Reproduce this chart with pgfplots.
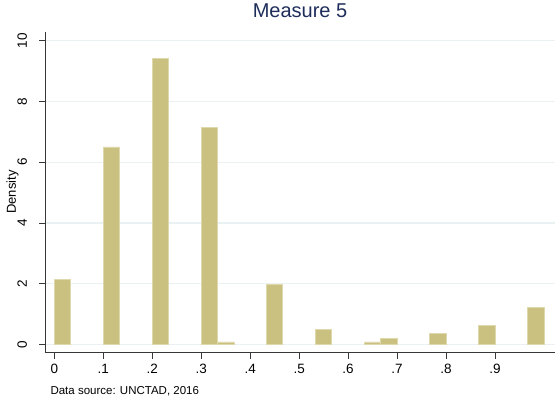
\documentclass[border=0pt]{standalone}
\usepackage{fontspec}
\setmainfont{Liberation Sans}
\usepackage{pgfplots}
\pgfplotsset{compat=1.18}

\definecolor{barfill}{RGB}{202,193,128}
\definecolor{baredge}{RGB}{222,216,172}
\definecolor{gridc}{RGB}{233,241,242}
\definecolor{titlec}{RGB}{30,45,90}
\definecolor{axisc}{RGB}{55,55,55}

\begin{document}
\begin{tikzpicture}
\useasboundingbox (0,0) rectangle (555pt,400pt);
\begin{axis}[
  at={(45pt,47.5pt)}, anchor=south west,
  scale only axis, width=510pt, height=320.8pt,
  xmin=-0.019, xmax=1.0225, ymin=-0.267, ymax=10.296,
  axis x line*=bottom, axis y line*=left,
  axis line style={axisc, line width=0.9pt},
  tick align=outside, major tick length=6pt,
  tick style={axisc, line width=0.8pt},
  xtick={0,0.1,0.2,0.3,0.4,0.5,0.6,0.7,0.8,0.9},
  xticklabels={0,.1,.2,.3,.4,.5,.6,.7,.8,.9},
  ytick={0,2,4,6,8,10},
  ymajorgrids, grid style={gridc, line width=1.3pt},
  /pgf/number format/assume math mode=true,
  xticklabel style={font=\fontsize{13.5}{15}\selectfont, anchor=base, yshift=-15pt},
  yticklabel style={font=\fontsize{13.5}{15}\selectfont, rotate=90, anchor=base, yshift=12pt},
  ylabel={Density},
  ylabel style={at={(axis description cs:-0.0637,0.5)}, anchor=center,
    font=\fontsize{13}{15}\selectfont},
  title={Measure 5},
  title style={at={(0.5,1)}, anchor=base, yshift=8.4pt,
    font=\fontsize{20}{22}\selectfont, text=titlec},
]
% density of each 1/30-wide bin, plotted at the bin centre
\addplot[ybar, bar width=0.033333, fill=barfill, draw=baredge, line width=0.7pt]
  coordinates {
    (0.016667,2.14)
    (0.116667,6.50)
    (0.216667,9.41)
    (0.316667,7.14)
    (0.350000,0.08)
    (0.450000,1.97)
    (0.550000,0.48)
    (0.650000,0.08)
    (0.683333,0.19)
    (0.783333,0.35)
    (0.883333,0.63)
    (0.983333,1.23)
  };
\end{axis}
\node[anchor=base west, font=\fontsize{11.5}{13}\selectfont] at (47pt,6pt)
  {Data source: UNCTAD, 2016};
\end{tikzpicture}
\end{document}
